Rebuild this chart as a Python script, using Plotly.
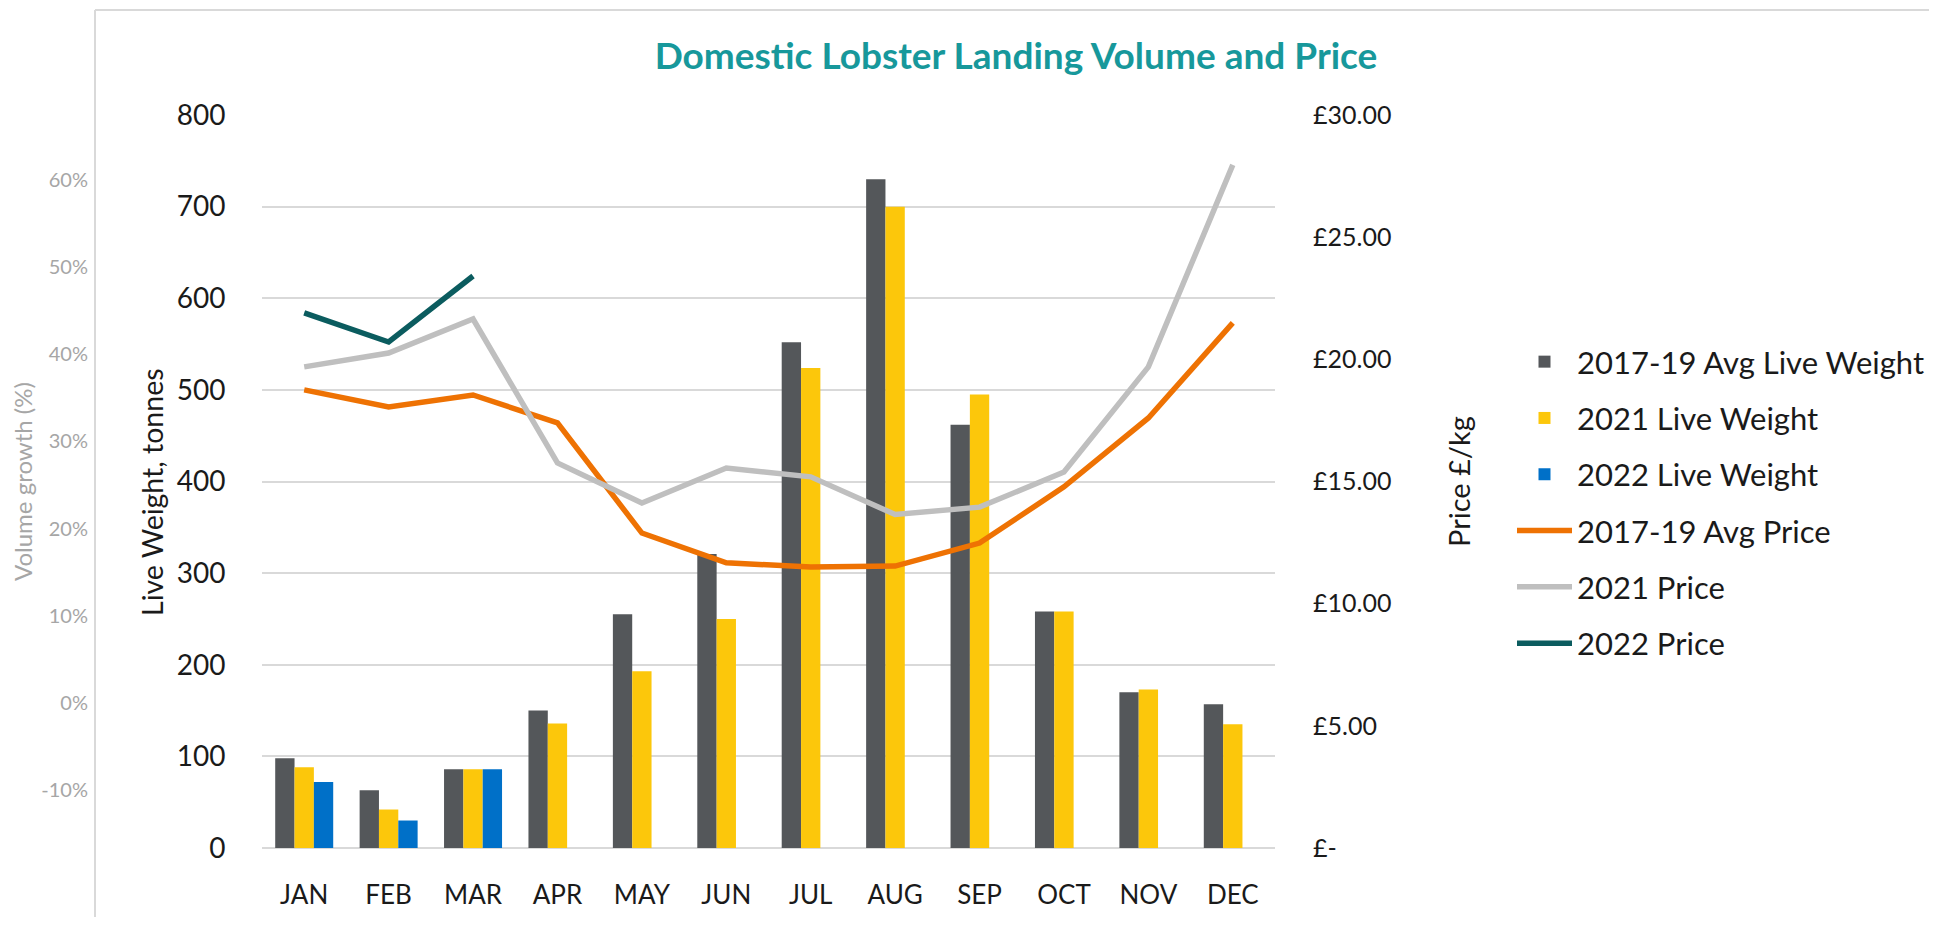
import plotly.graph_objects as go

months = ["JAN", "FEB", "MAR", "APR", "MAY", "JUN", "JUL", "AUG", "SEP", "OCT", "NOV", "DEC"]
weight_1719_avg = [98, 63, 86, 150, 255, 321, 552, 730, 462, 258, 170, 157]
weight_2021 = [88, 42, 86, 136, 193, 250, 524, 700, 495, 258, 173, 135]
weight_2022 = [72, 30, 86]
price_1719_avg = [18.75, 18.05, 18.54, 17.40, 12.89, 11.67, 11.50, 11.54, 12.48, 14.78, 17.60, 21.49]
price_2021 = [19.69, 20.26, 21.65, 15.76, 14.12, 15.55, 15.19, 13.65, 13.95, 15.39, 19.69, 27.96]
price_2022 = [21.90, 20.71, 23.41]

weight_ticks = [0, 100, 200, 300, 400, 500, 600, 700, 800]
price_ticks = [0, 5, 10, 15, 20, 25, 30]
price_tick_text = ["£-", "£5.00", "£10.00", "£15.00", "£20.00", "£25.00", "£30.00"]
growth_ticks = [-0.1, 0.0, 0.1, 0.2, 0.3, 0.4, 0.5, 0.6]
growth_tick_text = ["-10%", "0%", "10%", "20%", "30%", "40%", "50%", "60%"]

FONT = "Lato"
FW, FH = 1921, 909   # figure size (page has an 8px body margin)
OFF = 8


def fx(p):
    return (p - OFF) / FW


def fy(p):
    return 1 - (p - OFF) / FH


C_GREY_BAR = "#54575A"
C_YELLOW = "#FCC70B"
C_BLUE = "#0070C8"
C_ORANGE = "#EE7203"
C_LGREY = "#BFBFBF"
C_TEAL = "#0B5C5F"
TICKCOL = "#1A1A1A"

fig = go.Figure()
fig.add_trace(go.Bar(x=months, y=weight_1719_avg, name="2017-19 Avg Live Weight",
                     marker=dict(color=C_GREY_BAR, line=dict(width=0)), legendgroup="a"))
fig.add_trace(go.Bar(x=months, y=weight_2021, name="2021 Live Weight",
                     marker=dict(color=C_YELLOW, line=dict(width=0)), legendgroup="b"))
fig.add_trace(go.Bar(x=months[:len(weight_2022)], y=weight_2022, name="2022 Live Weight",
                     marker=dict(color=C_BLUE, line=dict(width=0)), legendgroup="c"))
fig.add_trace(go.Scatter(x=months, y=price_1719_avg, name="2017-19 Avg Price", yaxis="y2",
                         mode="lines", line=dict(color=C_ORANGE, width=5.5), legendgroup="d"))
fig.add_trace(go.Scatter(x=months, y=price_2021, name="2021 Price", yaxis="y2",
                         mode="lines", line=dict(color=C_LGREY, width=5.5), legendgroup="e"))
fig.add_trace(go.Scatter(x=months[:len(price_2022)], y=price_2022, name="2022 Price", yaxis="y2",
                         mode="lines", line=dict(color=C_TEAL, width=5.5), legendgroup="f"))
# empty trace so the volume-growth axis is drawn
fig.add_trace(go.Scatter(x=[], y=[], yaxis="y3", showlegend=False, hoverinfo="skip"))

fig.update_layout(
    width=FW, height=FH,
    margin=dict(l=0, r=0, t=0, b=0, autoexpand=False),
    paper_bgcolor="white", plot_bgcolor="white",
    font=dict(family=FONT, color=TICKCOL),
    barmode="group", bargap=0.313, bargroupgap=0,
    title=dict(text="<b>Domestic Lobster Landing Volume and Price</b>",
               font=dict(family=FONT, size=37, color="#17989B"),
               x=fx(1016), y=fy(56), xref="container", yref="container",
               xanchor="center", yanchor="middle"),
    xaxis=dict(domain=[fx(262), fx(1275)], type="category", showgrid=False, zeroline=False,
               showline=False, automargin=False,
               ticks="outside", ticklen=24, tickcolor="rgba(0,0,0,0)",
               tickfont=dict(family=FONT, size=26, color=TICKCOL)),
    yaxis=dict(domain=[fy(848), fy(115)], range=[0, 800], tickvals=weight_ticks, automargin=False,
               showgrid=True, gridcolor="#D9D9D9", gridwidth=2,
               zeroline=True, zerolinecolor="#D9D9D9", zerolinewidth=2, showline=False,
               ticks="outside", ticklen=30, tickcolor="rgba(0,0,0,0)",
               tickfont=dict(family=FONT, size=28, color=TICKCOL)),
    yaxis2=dict(overlaying="y", side="right", range=[0, 30], tickvals=price_ticks, automargin=False,
                ticktext=price_tick_text, showgrid=False, zeroline=False, showline=False,
                ticks="outside", ticklen=32, tickcolor="rgba(0,0,0,0)",
                tickfont=dict(family=FONT, size=25, color=TICKCOL)),
    yaxis3=dict(overlaying="y", side="left", anchor="free", position=fx(95), automargin=False,
                range=[-0.1666, 0.6746], tickvals=growth_ticks, ticktext=growth_tick_text,
                showgrid=False, zeroline=False, showline=False,
                ticks="outside", ticklen=3, tickcolor="rgba(0,0,0,0)",
                tickfont=dict(family=FONT, size=20, color="#A6A6A6")),
    legend=dict(x=fx(1512), y=fy(335), xanchor="left", yanchor="top",
                font=dict(family=FONT, size=31, color=TICKCOL),
                tracegroupgap=13, itemwidth=55, bgcolor="rgba(0,0,0,0)",
                traceorder="grouped"),
    showlegend=True,
)

# axis titles
fig.add_annotation(text="Live Weight, tonnes", x=fx(152), y=fy(492), xref="paper", yref="paper",
                   textangle=-90, showarrow=False, xanchor="center", yanchor="middle",
                   font=dict(family=FONT, size=28.5, color=TICKCOL))
fig.add_annotation(text="Price £/kg", x=fx(1458), y=fy(482), xref="paper", yref="paper",
                   textangle=-90, showarrow=False, xanchor="center", yanchor="middle",
                   font=dict(family=FONT, size=29, color=TICKCOL))
fig.add_annotation(text="Volume growth (%)", x=fx(22), y=fy(482), xref="paper", yref="paper",
                   textangle=-90, showarrow=False, xanchor="center", yanchor="middle",
                   font=dict(family=FONT, size=24, color="#A6A6A6"))

# frame lines (chart border)
fig.add_shape(type="line", xref="paper", yref="paper", x0=fx(95), x1=fx(95), y0=0, y1=fy(10),
              line=dict(color="#D9D9D9", width=2))
fig.add_shape(type="line", xref="paper", yref="paper", x0=fx(95), x1=1, y0=fy(10), y1=fy(10),
              line=dict(color="#D9D9D9", width=2))

fig.write_html("out.html")
